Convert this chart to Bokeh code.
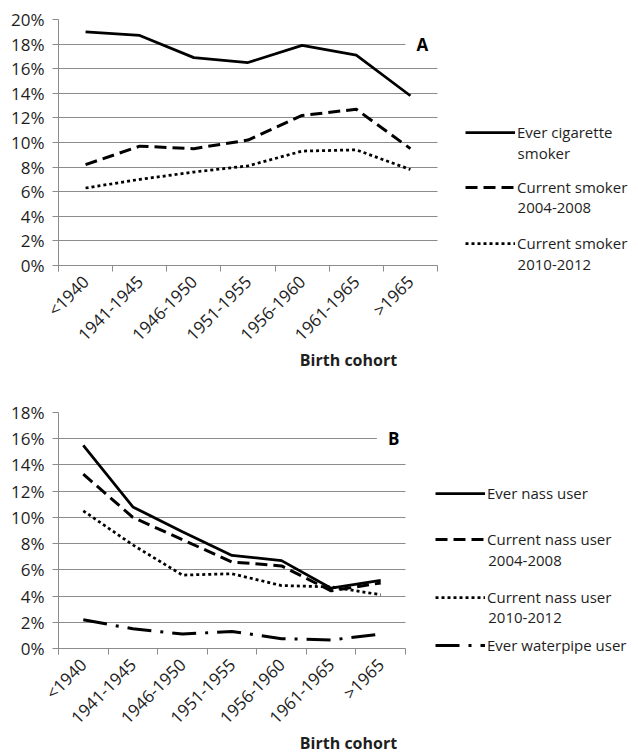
import math
from bokeh.plotting import figure
from bokeh.models import (Range1d, FixedTicker, PrintfTickFormatter, Legend,
                          LegendItem, Label, Grid)
from bokeh.layouts import column
from bokeh.embed import file_html
from bokeh.resources import INLINE

# ---------------- data ----------------
cohorts = ["<1940", "1941-1945", "1946-1950", "1951-1955", "1956-1960", "1961-1965", ">1965"]

# Panel A (percent)
ever_cig = [19.0, 18.7, 16.9, 16.5, 17.9, 17.1, 13.8]
cur_smoker_0408 = [8.2, 9.7, 9.5, 10.2, 12.2, 12.7, 9.5]
cur_smoker_1012 = [6.3, 7.0, 7.6, 8.1, 9.3, 9.4, 7.8]

# Panel B (percent)
ever_nass = [15.5, 10.8, 8.9, 7.1, 6.7, 4.6, 5.2]
cur_nass_0408 = [13.3, 10.0, 8.3, 6.6, 6.3, 4.4, 5.0]
cur_nass_1012 = [10.5, 7.9, 5.6, 5.7, 4.8, 4.7, 4.1]
ever_waterpipe = [2.2, 1.5, 1.1, 1.3, 0.75, 0.65, 1.1]

FONT = "Open Sans"
GRID = "#8c8c8c"
TXT = "#1e1e1e"
N = len(cohorts)
xpos = [i + 0.5 for i in range(N)]
W = 638
LEFT = 58
DROP = 6  # px the frame extends below the 0% line (room for the boundary ticks)


def make_panel(height, cat_w, top, zero_h, ymax, letter, letter_x, letter_y):
    fw = W - LEFT
    px_per_unit = zero_h / ymax
    fh = zero_h + DROP
    bottom = height - top - fh
    p = figure(width=W, height=height, x_range=Range1d(0, fw / cat_w),
               y_range=Range1d(-DROP / px_per_unit, ymax),
               output_backend="svg", toolbar_location=None,
               min_border_left=LEFT, min_border_right=0,
               min_border_top=top, min_border_bottom=bottom)
    p.outline_line_color = None
    p.background_fill_color = "white"
    p.border_fill_color = "white"
    p.xgrid.visible = False
    yticks = list(range(0, ymax + 1, 2))
    if "cross_bounds" in Grid.properties():
        p.ygrid.ticker = FixedTicker(ticks=yticks)
        p.ygrid.grid_line_color = GRID
        p.ygrid.grid_line_width = 1
        p.ygrid.cross_bounds = (0, N)
    else:
        p.ygrid.visible = False
        p.segment(x0=[0] * len(yticks), x1=[N] * len(yticks), y0=yticks, y1=yticks,
                  line_color=GRID, line_width=1, level="underlay")

    xa = p.xaxis[0]
    xa.bounds = (0, N)
    xa.ticker = FixedTicker(ticks=xpos, minor_ticks=list(range(N + 1)))
    xa.major_label_overrides = {x: c for x, c in zip(xpos, cohorts)}
    xa.axis_line_color = None
    xa.major_tick_out = 0
    xa.major_tick_in = 0
    xa.minor_tick_out = 0
    xa.minor_tick_in = DROP
    xa.minor_tick_line_color = GRID
    xa.major_label_orientation = math.pi / 4
    xa.major_label_text_font = FONT
    xa.major_label_text_font_size = "17px"
    xa.major_label_text_color = TXT
    xa.major_label_standoff = 7
    xa.axis_label = "Birth cohort"
    xa.axis_label_text_font = FONT
    xa.axis_label_text_font_style = "bold"
    xa.axis_label_text_font_size = "16px"
    xa.axis_label_text_color = TXT
    xa.axis_label_standoff = -8

    ya = p.yaxis[0]
    ya.ticker = FixedTicker(ticks=yticks)
    ya.formatter = PrintfTickFormatter(format="%d%%")
    ya.major_tick_out = 6
    ya.major_tick_in = 0
    ya.minor_tick_out = 0
    ya.minor_tick_in = 0
    ya.major_tick_line_color = GRID
    ya.axis_line_color = GRID
    ya.major_label_text_font = FONT
    ya.major_label_text_font_size = "17px"
    ya.major_label_text_color = TXT
    ya.major_label_standoff = 8

    p.add_layout(Label(x=letter_x, y=letter_y, text=letter, text_font=FONT,
                       text_font_style="bold", text_font_size="17px",
                       text_align="center", text_baseline="middle",
                       text_color="black", background_fill_color="white",
                       padding=11))
    return p


def add_item(p, r, label, vx, vy):
    lg = Legend(items=[LegendItem(label=label, renderers=[r])], location=(vx, vy),
                orientation="vertical", padding=0, margin=0, spacing=0,
                glyph_width=50, glyph_height=20, label_height=20, label_standoff=2,
                label_text_font=FONT, label_text_font_size="15px",
                label_text_color=TXT, border_line_color=None,
                background_fill_alpha=0)
    p.add_layout(lg)


def add_line2(p, text, x, y):
    p.add_layout(Label(x=x, y=y, text=text, text_font=FONT, text_font_size="15px",
                       text_color=TXT, text_align="left", text_baseline="middle"))


# ---------------- Panel A ----------------
pa = make_panel(373, 54.14, 19, 246, 20, "A", 6.72, 18)
ra1 = pa.line(xpos, ever_cig, line_color="black", line_width=2.75)
ra2 = pa.line(xpos, cur_smoker_0408, line_color="black", line_width=3, line_dash="12 6")
ra3 = pa.line(xpos, cur_smoker_1012, line_color="black", line_width=2.75, line_dash="3 3")
add_item(pa, ra1, "Ever cigarette", 407, 129)
add_item(pa, ra2, "Current smoker", 407, 74)
add_item(pa, ra3, "Current smoker", 407, 18)
add_line2(pa, "smoker", 8.48, 9.11)
add_line2(pa, "2004-2008", 8.48, 4.7)
add_line2(pa, "2010-2012", 8.48, 0.08)

# ---------------- Panel B ----------------
pb = make_panel(383, 49.57, 39, 236, 18, "B", 6.76, 16)
rb1 = pb.line(xpos, ever_nass, line_color="black", line_width=2.75)
rb2 = pb.line(xpos, cur_nass_0408, line_color="black", line_width=3, line_dash="12 6")
rb3 = pb.line(xpos, cur_nass_1012, line_color="black", line_width=2.75, line_dash="3 3")
rb4 = pb.line(xpos, ever_waterpipe, line_color="black", line_width=3, line_dash="24 9 3 9")
add_item(pb, rb1, "Ever nass user", 377, 151)
add_item(pb, rb2, "Current nass user", 377, 105)
add_item(pb, rb3, "Current nass user", 377, 47)
add_item(pb, rb4, "Ever waterpipe user", 377, -1)
add_line2(pb, "2004-2008", 8.67, 6.64)
add_line2(pb, "2010-2012", 8.67, 2.29)

layout = column(pa, pb, spacing=0)
open("out.html", "w").write(file_html(layout, INLINE))
